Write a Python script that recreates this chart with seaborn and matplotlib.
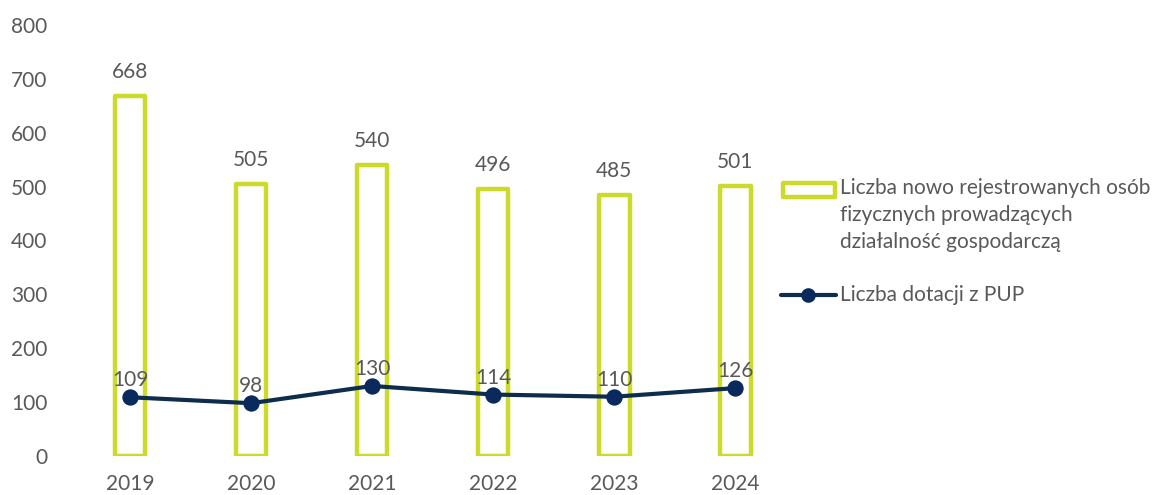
import matplotlib
matplotlib.use("Agg")
import matplotlib.pyplot as plt
import seaborn as sns
import pandas as pd
from matplotlib.patches import Rectangle
from matplotlib.lines import Line2D

years = ["2019", "2020", "2021", "2022", "2023", "2024"]
registrations = [668, 505, 540, 496, 485, 501]
grants = [109, 98, 130, 114, 110, 126]
bar_label = "Liczba nowo rejestrowanych osób\nfizycznych prowadzących\ndziałalność gospodarczą"
line_label = "Liczba dotacji z PUP"

LIME = "#CCDB2A"
NAVY = "#0E2C4C"
MARK = "#0A2A5E"
GRAY = "#595959"
FS = 15

sns.set_theme(style="white")
plt.rcParams["font.family"] = ["Lato", "DejaVu Sans"]

df = pd.DataFrame({"year": years, "reg": registrations, "grants": grants})

W, H = 1171, 495
fig = plt.figure(figsize=(W / 100, H / 100), dpi=100)
ax = fig.add_axes([0.0594, 0.0788, 0.62, 0.8707])

sns.barplot(data=df, x="year", y="reg", ax=ax, fill=False, color=LIME,
            width=0.255, linewidth=3.2, saturation=1)
for p in ax.patches:
    p.set_edgecolor(LIME)
    p.set_joinstyle("round")

sns.pointplot(data=df, x="year", y="grants", ax=ax, color=NAVY,
              linewidth=3, markersize=9.5, markers="o")
for ln in ax.lines:
    ln.set_markerfacecolor(MARK)
    ln.set_markeredgecolor(MARK)

for i, v in enumerate(registrations):
    ax.annotate(str(v), (i, v), xytext=(0, 10), textcoords="offset points",
                ha="center", va="bottom", fontsize=FS, color=GRAY)
for i, v in enumerate(grants):
    ax.annotate(str(v), (i, v), xytext=(0, 5), textcoords="offset points",
                ha="center", va="bottom", fontsize=FS, color=GRAY)

ax.set_xlim(-0.5, 5.5)
ax.set_ylim(0, 800)
ax.set_yticks(range(0, 801, 100))
ax.set_xlabel("")
ax.set_ylabel("")
ax.tick_params(axis="both", length=0, labelsize=FS, labelcolor=GRAY)
ax.tick_params(axis="y", pad=16)
ax.tick_params(axis="x", pad=13)
for s in ax.spines.values():
    s.set_visible(False)
ax.grid(False)

# legend drawn in figure pixel space
def fx(px):
    return px / W

def fy(py):
    return 1 - py / H

fig.patches.append(Rectangle((fx(783), fy(197)), fx(835) - fx(783), fy(183) - fy(197),
                             transform=fig.transFigure, facecolor="white",
                             edgecolor=LIME, linewidth=3.2, joinstyle="round"))
fig.lines.append(Line2D([fx(781), fx(836)], [fy(295), fy(295)], transform=fig.transFigure,
                        color=NAVY, linewidth=3))
fig.lines.append(Line2D([fx(808)], [fy(295)], transform=fig.transFigure, marker="o",
                        markersize=9.5, markerfacecolor=MARK, markeredgecolor=MARK))
fig.text(fx(840), fy(178), bar_label, ha="left", va="top", fontsize=FS,
         color=GRAY, linespacing=1.45)
fig.text(fx(840), fy(295), line_label, ha="left", va="center", fontsize=FS,
         color=GRAY)

fig.savefig("out.png", dpi=100)
